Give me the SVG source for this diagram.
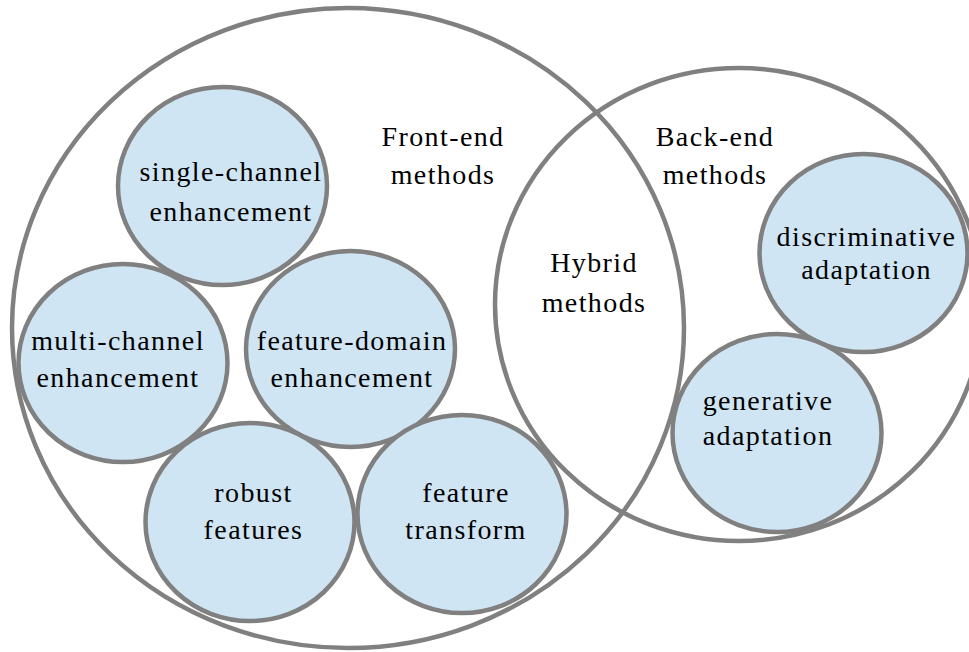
<svg xmlns="http://www.w3.org/2000/svg" width="969" height="652" viewBox="0 0 969 652">
<style>
.big{fill:none;stroke:#808080;stroke-width:4.5}
.node{fill:#cfe5f3;stroke:#808080;stroke-width:4.5}
text{font-family:"Liberation Serif","Times New Roman",serif;font-size:28px;fill:#000;text-anchor:middle;letter-spacing:1.4px}
</style>
<rect width="969" height="652" fill="#ffffff"/>
<g id="front-end">
<ellipse class="big" cx="348" cy="328" rx="336" ry="320"/>
<text x="443" y="146">Front-end</text>
<text x="443" y="184">methods</text>
</g>
<g id="back-end">
<ellipse class="big" cx="739" cy="304.5" rx="244" ry="236.5"/>
<text x="715" y="146">Back-end</text>
<text x="715" y="184">methods</text>
</g>
<g id="hybrid">
<text x="594" y="272">Hybrid</text>
<text x="594" y="312">methods</text>
</g>
<g id="connectors"></g>
<g id="single-channel">
<ellipse class="node" cx="222.5" cy="186" rx="104.5" ry="99"/>
<text x="231" y="181">single-channel</text>
<text x="231" y="221">enhancement</text>
</g>
<g id="multi-channel">
<ellipse class="node" cx="123" cy="363" rx="104.5" ry="99"/>
<text x="118" y="350">multi-channel</text>
<text x="118" y="387">enhancement</text>
</g>
<g id="feature-domain">
<ellipse class="node" cx="350.5" cy="349" rx="104.5" ry="98"/>
<text x="352" y="350">feature-domain</text>
<text x="352" y="387">enhancement</text>
</g>
<g id="robust-features">
<ellipse class="node" cx="250" cy="522" rx="104.5" ry="99"/>
<text x="253.5" y="502">robust</text>
<text x="253.5" y="539">features</text>
</g>
<g id="feature-transform">
<ellipse class="node" cx="462" cy="514" rx="104.5" ry="99"/>
<text x="466" y="502">feature</text>
<text x="466" y="539">transform</text>
</g>
<g id="discriminative-adaptation">
<ellipse class="node" cx="863.5" cy="253" rx="104" ry="99"/>
<text x="866.5" y="246">discriminative</text>
<text x="866.5" y="279">adaptation</text>
</g>
<g id="generative-adaptation">
<ellipse class="node" cx="777" cy="433" rx="104.5" ry="99"/>
<text x="768" y="410">generative</text>
<text x="768" y="445">adaptation</text>
</g>
</svg>
